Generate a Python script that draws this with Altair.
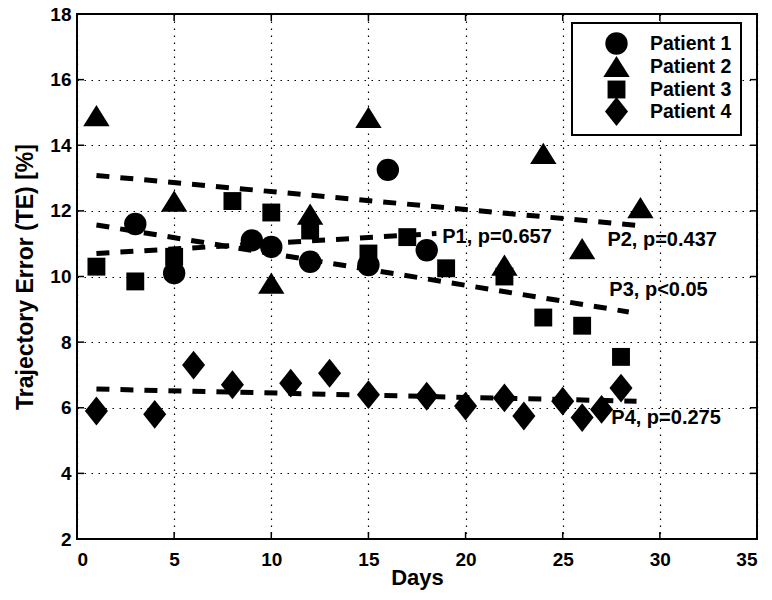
import altair as alt
import pandas as pd

# ---------------- data ----------------
patients = ["Patient 1", "Patient 2", "Patient 3", "Patient 4"]

p1_days = [3, 5, 9, 10, 12, 15, 16, 18]
p1_te = [11.6, 10.1, 11.1, 10.9, 10.45, 10.35, 13.25, 10.8]

p2_days = [1, 5, 10, 12, 15, 22, 24, 26, 29]
p2_te = [14.9, 12.3, 9.8, 11.9, 14.85, 10.35, 13.75, 10.85, 12.1]

p3_days = [1, 3, 5, 8, 10, 12, 15, 17, 19, 22, 24, 26, 28]
p3_te = [10.3, 9.85, 10.6, 12.3, 11.95, 11.4, 10.7, 11.2, 10.25, 10.0, 8.75, 8.5, 7.55]

p4_days = [1, 4, 6, 8, 11, 13, 15, 18, 20, 22, 23, 25, 26, 27, 28]
p4_te = [5.9, 5.8, 7.3, 6.7, 6.75, 7.05, 6.4, 6.35, 6.05, 6.3, 5.75, 6.2, 5.7, 5.95, 6.6]

# regression (dashed) lines: start / end
fit_start_day = [1, 1, 1, 1]
fit_end_day = [18.5, 28.8, 28.4, 28.8]
fit_start_te = [10.7, 13.08, 11.57, 6.57]
fit_end_te = [11.31, 11.56, 8.92, 6.2]

ann_text = ["P1, p=0.657", "P2, p=0.437", "P3, p<0.05", "P4, p=0.275"]
ann_day = [18.8, 27.3, 27.4, 27.5]
ann_te = [11.2, 11.1, 9.58, 5.68]

x_ticks = [0, 5, 10, 15, 20, 25, 30, 35]
y_ticks = [2, 4, 6, 8, 10, 12, 14, 16, 18]

# ---------------- tables ----------------
rows = []
for name, days, vals in zip(patients, [p1_days, p2_days, p3_days, p4_days],
                            [p1_te, p2_te, p3_te, p4_te]):
    for d, v in zip(days, vals):
        rows.append({"Patient": name, "Day": d, "TE": v})
pts = pd.DataFrame(rows)

lrows = []
for name, d0, d1, v0, v1 in zip(patients, fit_start_day, fit_end_day, fit_start_te, fit_end_te):
    lrows.append({"Patient": name, "Day": d0, "TE": v0})
    lrows.append({"Patient": name, "Day": d1, "TE": v1})
fits = pd.DataFrame(lrows)

ann = pd.DataFrame({"label": ann_text, "Day": ann_day, "TE": ann_te})
xt = pd.DataFrame({"Day": x_ticks})
yt = pd.DataFrame({"TE": y_ticks})

W, H = 680, 525
FONT = "Liberation Sans"

shape_paths = [
    "circle",
    "M0,-0.95L1.18,0.95L-1.18,0.95Z",
    "M-0.8,-0.8L0.8,-0.8L0.8,0.8L-0.8,0.8Z",
    "M0,-1.29L1.03,0L0,1.29L-1.03,0Z",
]

xscale = alt.Scale(domain=[0, 35], nice=False, zero=False)
yscale = alt.Scale(domain=[2, 18], nice=False, zero=False)

x_enc = alt.X("Day:Q", scale=xscale,
              axis=alt.Axis(values=x_ticks, title="Days", titleY=45,
                            titleBaseline="alphabetic", labelPadding=11))
y_enc = alt.Y("TE:Q", scale=yscale,
              axis=alt.Axis(values=y_ticks, title="Trajectory Error (TE) [%]",
                            titleX=-40, titleY=H / 2, titleBaseline="bottom",
                            labelPadding=6))

points = alt.Chart(pts).mark_point(filled=True, size=500, color="black",
                                   opacity=1, strokeWidth=0).encode(
    x=x_enc,
    y=y_enc,
    shape=alt.Shape("Patient:N",
                    scale=alt.Scale(domain=patients, range=shape_paths),
                    legend=alt.Legend(title=None, orient="none", legendX=495, legendY=9,
                                      padding=9, rowPadding=-2, labelOffset=22,
                                      symbolOffset=24)),
)

lines = alt.Chart(fits).mark_line(color="black", strokeWidth=5,
                                  strokeDash=[13, 11], strokeCap="butt").encode(
    x="Day:Q", y="TE:Q", detail="Patient:N")

texts = alt.Chart(ann).mark_text(align="left", baseline="middle", font=FONT,
                                 fontSize=20, fontWeight="bold", color="black").encode(
    x="Day:Q", y="TE:Q", text="label:N")

tick_b = alt.Chart(xt).mark_rule(color="black", strokeWidth=1.5).encode(
    x="Day:Q", y=alt.value(H), y2=alt.value(H - 7))
tick_t = alt.Chart(xt).mark_rule(color="black", strokeWidth=1.5).encode(
    x="Day:Q", y=alt.value(0), y2=alt.value(7))
tick_l = alt.Chart(yt).mark_rule(color="black", strokeWidth=1.5).encode(
    y="TE:Q", x=alt.value(0), x2=alt.value(7))
tick_r = alt.Chart(yt).mark_rule(color="black", strokeWidth=1.5).encode(
    y="TE:Q", x=alt.value(W), x2=alt.value(W - 7))

chart = alt.layer(points, lines, texts, tick_b, tick_t, tick_l, tick_r).properties(
    width=W, height=H,
    autosize=alt.AutoSizeParams(type="none"),
    padding={"left": 77, "top": 14, "right": 15, "bottom": 61},
    background="white",
).configure_view(
    stroke="black", strokeWidth=2, fill="white"
).configure_axis(
    grid=True, gridColor="black", gridDash=[1.5, 5.5], gridWidth=1.2, gridOpacity=1,
    domain=False, ticks=False, tickSize=0,
    labelFont=FONT, labelFontSize=19, labelFontWeight="bold", labelColor="black",
    titleFont=FONT, titleFontSize=22, titleFontWeight="bold", titleColor="black",
).configure_axisY(
    titleFontSize=23
).configure_legend(
    strokeColor="black", strokeWidth=2, fillColor="white", cornerRadius=0,
    labelFont=FONT, labelFontSize=19.5, labelFontWeight="bold", labelColor="black",
    symbolSize=500, symbolFillColor="black", symbolStrokeWidth=0, symbolOpacity=1,
)

chart.save("out.html", embed_options={"renderer": "svg", "actions": False})
